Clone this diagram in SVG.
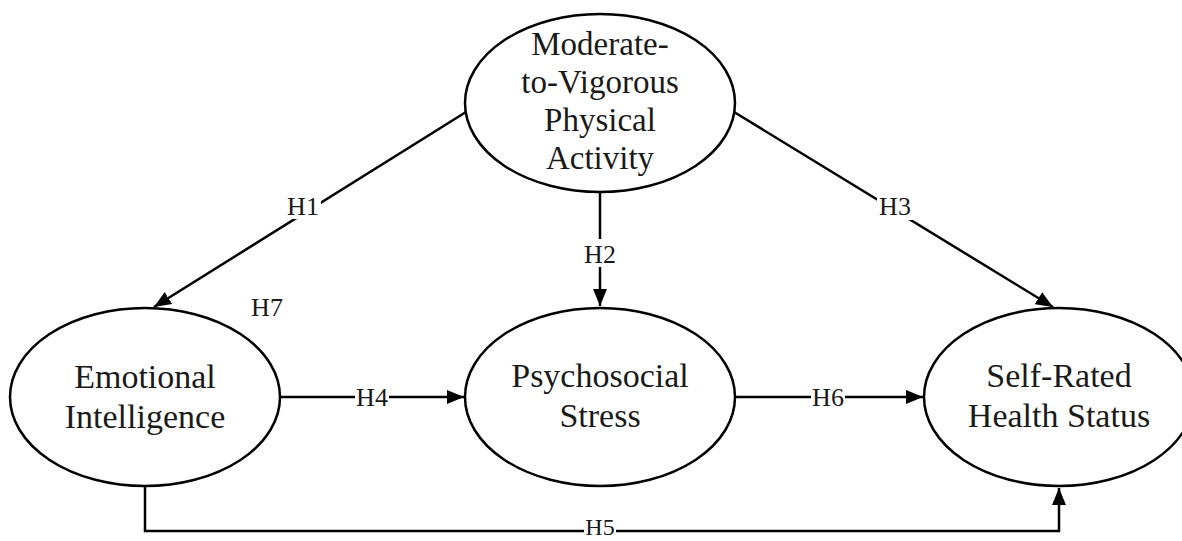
<svg xmlns="http://www.w3.org/2000/svg" width="1182" height="541" viewBox="0 0 1182 541">
<defs>
<marker id="ah" markerUnits="userSpaceOnUse" markerWidth="18" markerHeight="16" viewBox="0 0 18 16" refX="17" refY="8" orient="auto">
<path d="M0,1 L17,8 L0,15 Z" fill="#000"/>
</marker>
<style>
.n{fill:#fff;stroke:#000;stroke-width:2.5}
.t{font-family:"Liberation Serif","Times New Roman",serif;fill:#1a1a1a;text-anchor:middle}
.big{font-size:33px}
.mid{font-size:34px}
.lb{font-family:"Liberation Serif","Times New Roman",serif;font-size:26px;fill:#1a1a1a;text-anchor:middle}
.c{fill:none;stroke:#000;stroke-width:2.5}
.bg{fill:#fff}
</style>
</defs>
<rect width="1182" height="541" fill="#fff"/>
<g id="connectors">
<line class="c" x1="466" y1="112" x2="154" y2="307" marker-end="url(#ah)"/>
<line class="c" x1="600" y1="192" x2="600" y2="306" marker-end="url(#ah)"/>
<line class="c" x1="734" y1="112" x2="1053" y2="307" marker-end="url(#ah)"/>
<line class="c" x1="280" y1="397" x2="464" y2="397" marker-end="url(#ah)"/>
<line class="c" x1="735" y1="397" x2="923" y2="397" marker-end="url(#ah)"/>
<polyline class="c" points="145,486 145,531 1059,531 1059,488" marker-end="url(#ah)"/>
<rect class="bg" x="285" y="191" width="36" height="28"/>
<text class="lb" x="303" y="215">H1</text>
<rect class="bg" x="582" y="239" width="36" height="28"/>
<text class="lb" x="600" y="263">H2</text>
<rect class="bg" x="877" y="192" width="36" height="28"/>
<text class="lb" x="895" y="215">H3</text>
<rect class="bg" x="355" y="384" width="34" height="26"/>
<text class="lb" x="372" y="406">H4</text>
<rect class="bg" x="584" y="520" width="32" height="21"/>
<text class="lb" x="600" y="535" style="font-size:24px">H5</text>
<rect class="bg" x="811" y="384" width="34" height="26"/>
<text class="lb" x="828" y="406">H6</text>
<text class="lb" x="267" y="316">H7</text>
</g>
<g id="mvpa">
<ellipse class="n" cx="600" cy="103" rx="135" ry="89"/>
<text class="t big" x="600" y="55">Moderate-</text>
<text class="t big" x="600" y="93">to-Vigorous</text>
<text class="t big" x="600" y="131">Physical</text>
<text class="t big" x="600" y="169">Activity</text>
</g>
<g id="ei">
<ellipse class="n" cx="145" cy="397" rx="135" ry="89"/>
<text class="t mid" x="145" y="388">Emotional</text>
<text class="t mid" x="145" y="428">Intelligence</text>
</g>
<g id="ps">
<ellipse class="n" cx="600" cy="397" rx="135" ry="89"/>
<text class="t mid" x="600" y="387">Psychosocial</text>
<text class="t mid" x="600" y="427">Stress</text>
</g>
<g id="srhs">
<ellipse class="n" cx="1059" cy="397" rx="135" ry="89"/>
<text class="t mid" x="1059" y="387">Self-Rated</text>
<text class="t mid" x="1059" y="427">Health Status</text>
</g>
</svg>
